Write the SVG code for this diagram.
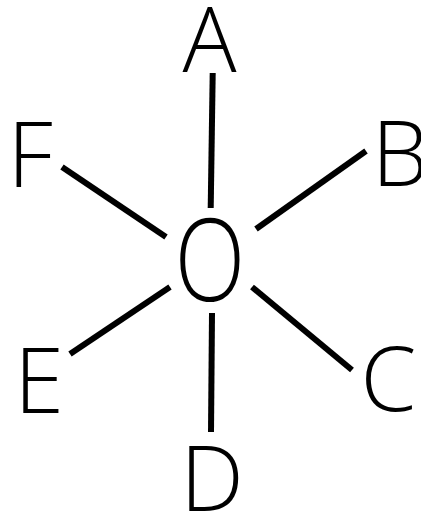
<svg xmlns="http://www.w3.org/2000/svg" width="421" height="514" viewBox="0 0 421 514">
<style>
.lbl{font-family:"Open Sans","Noto Sans","Liberation Sans",sans-serif;font-size:90px;font-weight:350;fill:#000;text-anchor:middle}
.edge{stroke:#000;stroke-width:6;fill:none;stroke-linecap:butt}
</style>
<rect width="421" height="514" fill="#fff"/>
<g id="connectors">
<line class="edge" x1="212.7" y1="73" x2="210.7" y2="208"/>
<line class="edge" x1="62" y1="167" x2="166" y2="237"/>
<line class="edge" x1="256" y1="229" x2="366" y2="151"/>
<line class="edge" x1="70" y1="354" x2="170" y2="287"/>
<line class="edge" x1="252" y1="287" x2="352" y2="370"/>
<line class="edge" x1="212" y1="313" x2="211" y2="432"/>
</g>
<g id="node-O"><text class="lbl" transform="translate(210,301) scale(1.03,1.27)" x="0" y="0">O</text></g>
<g id="node-A"><text class="lbl" x="209.5" y="72">A</text></g>
<g id="node-B"><text class="lbl" x="400" y="186">B</text></g>
<g id="node-C"><text class="lbl" x="388.5" y="411">C</text></g>
<g id="node-D"><text class="lbl" x="212" y="511">D</text></g>
<g id="node-E"><text class="lbl" x="39" y="413">E</text></g>
<g id="node-F"><text class="lbl" x="30" y="187">F</text></g>
</svg>
